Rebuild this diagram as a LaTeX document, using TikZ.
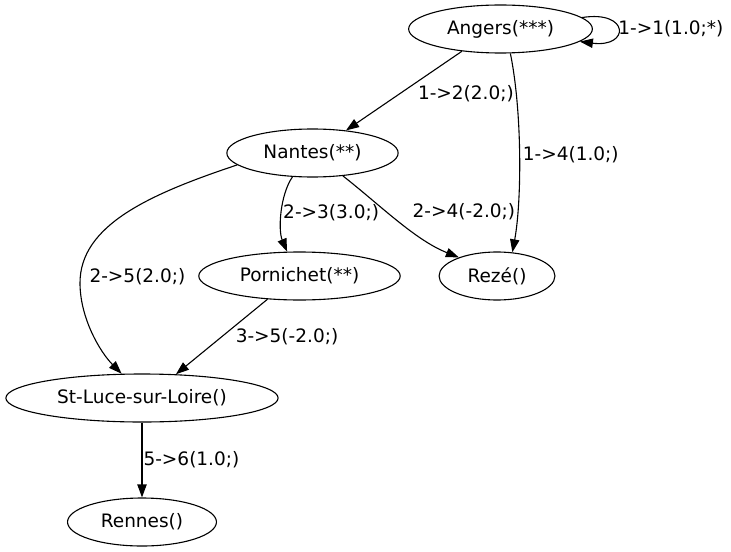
\documentclass[tikz,border=0pt]{standalone}
\usepackage{fontspec}
\setmainfont{DejaVu Sans}
\usetikzlibrary{arrows.meta,shapes.geometric}
\usetikzlibrary{positioning}
\tikzset{
    city/.style={
           ellipse,
           draw=black, line width=1.1bp,
           minimum height=48bp,
           inner xsep=11.5bp,
           inner ysep=0pt,
           font=\fontsize{18.5bp}{22bp}\selectfont,
           text centered,
           },
    elabel/.style={
           inner sep=0pt,
           font=\fontsize{18.5bp}{22bp}\selectfont,
           },
}

\begin{document}
\begin{tikzpicture}[x=1bp,y=-1bp,->,>={Triangle[length=13bp,width=9.3bp]},line width=1.1bp]
        \useasboundingbox (0,0) rectangle (731,552);

        % CITY ANGERS (top)
        \node[city] (C_ANGERS) at (500.5,29) {Angers(***)};

        % CITY NANTES
        \node[city,
            below of=C_ANGERS,
            xshift=-188bp,
            node distance=124bp,
            anchor=center] (C_NANTES) {Nantes(**)};

        % CITY PORNICHET
        \node[city,
            below of=C_NANTES,
            xshift=-13bp,
            node distance=123bp,
            anchor=center] (C_PORNICHET) {Pornichet(**)};

        % CITY REZE
        \node[city,
            right of=C_PORNICHET,
            node distance=197.5bp,
            anchor=center] (C_REZE) {Rezé()};

        % CITY ST-LUCE
        \node[city,
            below of=C_PORNICHET,
            xshift=-157.5bp,
            node distance=122bp,
            anchor=center] (C_STLUCE) {St-Luce-sur-Loire()};

        % CITY RENNES
        \node[city,
            below of=C_STLUCE,
            node distance=124bp,
            anchor=center] (C_RENNES) {Rennes()};

        % straight links
        \path
            (C_ANGERS.-150)    edge node[elabel,pos=0.53,right=17bp]{1->2(2.0;)}   (C_NANTES.34)
            (C_PORNICHET.-144) edge node[elabel,pos=0.5,right=13.5bp]{3->5(-2.0;)} (C_STLUCE.35)
            (C_STLUCE)         edge node[elabel,pos=0.5,right=1bp]{5->6(1.0;)}     (C_RENNES)
            ;

        % curved links
        \draw (C_ANGERS.8) .. controls (630,10) and (630,48) .. (C_ANGERS.-9)
            node[elabel,pos=0.5,right]{1->1(1.0;*)};
        \draw (C_ANGERS.-68) .. controls (522,110) and (522,200) .. (C_REZE.57)
            node[elabel,pos=0.5,right=3bp]{1->4(1.0;)};
        \draw (C_NANTES.-130) .. controls (280,195) and (278,230) .. (C_PORNICHET.117)
            node[elabel,pos=0.5,right=1bp]{2->3(3.0;)};
        \draw (C_NANTES.-37) .. controls (380,205) and (415,240) .. (C_REZE.154)
            node[elabel,pos=0.4,right=25bp]{2->4(-2.0;)};
        \draw (C_NANTES.-171.5) .. controls (150,194) and (80,225) .. (80,283)
            node[elabel,right=9bp,yshift=6bp]{2->5(2.0;)}
            .. controls (80,318) and (100,352) .. (C_STLUCE.130);

\end{tikzpicture}
\end{document}
